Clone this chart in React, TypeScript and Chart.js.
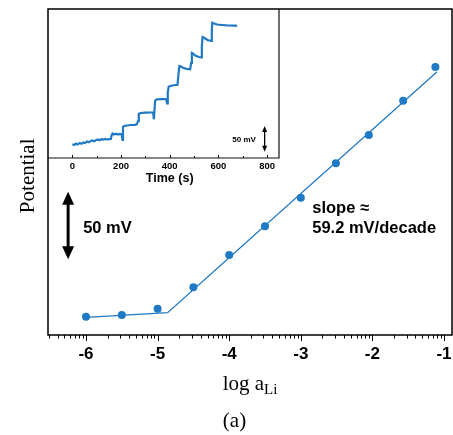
import React, { useEffect, useRef } from "react";
import { Chart, registerables } from "chart.js";

Chart.register(...registerables);

// ---- Main chart data (log a_Li vs potential, mV, arbitrary offset) ----
const logA = [-6, -5.5, -5, -4.5, -4, -3.5, -3, -2.51, -2.05, -1.57, -1.12];
const potential = [18.8, 20.6, 27.0, 49.0, 82.2, 111.7, 141.1, 176.5, 205.5, 240.8, 275.4];
const fitLogA = [-6, -4.86, -1.1];
const fitPotential = [18.2, 22.9, 270.3];
const xTickValues = [-6, -5, -4, -3, -2, -1];

// ---- Inset data (time trace) ----
const insetTime = [
  0, 8, 15, 22, 30, 38, 45, 52, 60, 68, 75, 82, 90, 98, 105, 112, 120, 128, 135, 142, 150, 158,
  162, 165, 172, 180, 188, 196, 203, 206, 208, 212, 225, 240, 255, 265, 270, 273, 280, 300, 320,
  332, 335, 337, 340, 345, 360, 375, 386, 389, 392, 396, 410, 425, 432, 436, 440, 444, 455, 470,
  484, 488, 491, 495, 505, 520, 529, 532, 535, 540, 555, 570, 573, 575, 580, 595, 615, 640, 670, 677,
];
const insetPotential = [
  27.4, 26, 29, 27, 30, 28.4, 31, 30, 33, 31.4, 34, 35, 33.6, 36, 37, 35.6, 37.6, 36.8, 38, 37, 37.6, 38,
  46, 49, 47, 48.4, 46.8, 48, 47, 36, 62, 64, 65, 66, 66.4, 67.4, 74, 88, 90, 90.6, 91,
  91.4, 77.4, 92, 114, 117, 117.6, 118, 117.6, 109.4, 132, 143, 145, 146, 146.4, 168, 184, 183.4, 180.4, 178.4,
  177.4, 190, 210, 209, 205, 202, 201.4, 224, 242, 241, 236, 234, 256, 270.6, 269.6, 267, 266, 265, 264.6, 264.4,
];
const insetTickValues = [0, 200, 400, 600, 800];

const BLUE = "#1f79c4";
const SANS = "'Liberation Sans', Arial, sans-serif";
const SERIF = "'Liberation Serif', 'Times New Roman', serif";

function drawDoubleArrow(
  ctx: CanvasRenderingContext2D,
  x: number,
  y1: number,
  y2: number,
  shaftW: number,
  headW: number,
  headH: number
) {
  ctx.save();
  ctx.fillStyle = "#000";
  ctx.strokeStyle = "#000";
  ctx.lineWidth = shaftW;
  ctx.beginPath();
  ctx.moveTo(x, y1 + headH * 0.8);
  ctx.lineTo(x, y2 - headH * 0.8);
  ctx.stroke();
  ctx.beginPath();
  ctx.moveTo(x, y1);
  ctx.lineTo(x - headW / 2, y1 + headH);
  ctx.lineTo(x + headW / 2, y1 + headH);
  ctx.closePath();
  ctx.fill();
  ctx.beginPath();
  ctx.moveTo(x, y2);
  ctx.lineTo(x - headW / 2, y2 - headH);
  ctx.lineTo(x + headW / 2, y2 - headH);
  ctx.closePath();
  ctx.fill();
  ctx.restore();
}

const mainDecor = {
  id: "mainDecor",
  afterDraw(chart: any) {
    const ctx: CanvasRenderingContext2D = chart.ctx;
    const { left, top, right, bottom } = chart.chartArea;
    const xs = chart.scales.x;
    const ys = chart.scales.y;
    ctx.save();
    // frame
    ctx.strokeStyle = "#000";
    ctx.lineWidth = 1.5;
    ctx.strokeRect(left, top, right - left, bottom - top);
    // log-style ticks
    ctx.lineWidth = 1;
    for (let n = -7; n <= -1; n++) {
      for (let k = 1; k <= 9; k++) {
        const v = n + Math.log10(k);
        if (v < xs.min || v > xs.max) continue;
        const px = Math.round(xs.getPixelForValue(v)) + 0.5;
        const len = k === 1 ? 6 : 3.5;
        ctx.beginPath();
        ctx.moveTo(px, bottom);
        ctx.lineTo(px, bottom + len);
        ctx.stroke();
      }
    }
    // scale bar
    drawDoubleArrow(ctx, xs.getPixelForValue(-6.25), ys.getPixelForValue(147.3), ys.getPixelForValue(77.8), 3, 12, 13);
    ctx.fillStyle = "#000";
    ctx.font = `bold 16.5px ${SANS}`;
    ctx.textAlign = "left";
    ctx.textBaseline = "alphabetic";
    ctx.fillText("50 mV", xs.getPixelForValue(-6.04), ys.getPixelForValue(104.5));
    ctx.fillText("slope \u2248", xs.getPixelForValue(-2.84), ys.getPixelForValue(125.2));
    ctx.fillText("59.2 mV/decade", xs.getPixelForValue(-2.84), ys.getPixelForValue(104.5));
    // axis titles
    ctx.font = `21px ${SERIF}`;
    ctx.save();
    ctx.translate(33.5, 175.8);
    ctx.rotate(-Math.PI / 2);
    ctx.textAlign = "center";
    ctx.fillText("Potential", 0, 0);
    ctx.restore();
    const base = 389.5;
    ctx.textAlign = "left";
    const t1 = "log a";
    ctx.font = `21px ${SERIF}`;
    const w1 = ctx.measureText(t1).width;
    ctx.font = `15px ${SERIF}`;
    const w2 = ctx.measureText("Li").width;
    const startX = (left + right) / 2 - (w1 + w2) / 2;
    ctx.font = `21px ${SERIF}`;
    ctx.fillText(t1, startX, base);
    ctx.font = `15px ${SERIF}`;
    ctx.fillText("Li", startX + w1, base + 4.5);
    ctx.font = `21px ${SERIF}`;
    ctx.textAlign = "center";
    ctx.fillText("(a)", 234.5, 427);
    ctx.restore();
  },
};

const insetDecor = {
  id: "insetDecor",
  afterDraw(chart: any) {
    const ctx: CanvasRenderingContext2D = chart.ctx;
    const { left, top, right, bottom } = chart.chartArea;
    const xs = chart.scales.x;
    const ys = chart.scales.y;
    ctx.save();
    ctx.strokeStyle = "#111";
    ctx.lineWidth = 1.2;
    ctx.beginPath();
    ctx.moveTo(left, bottom);
    ctx.lineTo(right, bottom);
    ctx.lineTo(right, top);
    ctx.stroke();
    ctx.lineWidth = 1;
    for (let v = 0; v <= 800; v += 100) {
      const px = Math.round(xs.getPixelForValue(v)) + 0.5;
      const len = v % 200 === 0 ? 3 : 2;
      ctx.beginPath();
      ctx.moveTo(px, bottom);
      ctx.lineTo(px, bottom - len);
      ctx.stroke();
    }
    ctx.fillStyle = "#000";
    ctx.font = `bold 12.5px ${SANS}`;
    ctx.textAlign = "center";
    ctx.textBaseline = "alphabetic";
    ctx.fillText("Time (s)", xs.getPixelForValue(400), 182);
    ctx.font = `bold 8px ${SANS}`;
    ctx.textAlign = "left";
    ctx.fillText("50 mV", xs.getPixelForValue(657), 142);
    drawDoubleArrow(ctx, xs.getPixelForValue(790), ys.getPixelForValue(64), ys.getPixelForValue(12.6), 1.3, 5, 6);
    ctx.restore();
  },
};

export default function App() {
  const mainRef = useRef<HTMLCanvasElement | null>(null);
  const insetRef = useRef<HTMLCanvasElement | null>(null);

  useEffect(() => {
    document.body.style.margin = "0";
    const main = new Chart(mainRef.current as HTMLCanvasElement, {
      type: "scatter",
      data: {
        datasets: [
          {
            data: logA.map((x, i) => ({ x, y: potential[i] })),
            backgroundColor: BLUE,
            borderColor: BLUE,
            pointRadius: 4,
            pointBorderWidth: 0,
            showLine: false,
            order: 1,
          },
          {
            data: fitLogA.map((x, i) => ({ x, y: fitPotential[i] })),
            borderColor: BLUE,
            borderWidth: 1.3,
            pointRadius: 0,
            showLine: true,
            order: 2,
          },
        ],
      },
      options: {
        animation: false,
        responsive: false,
        devicePixelRatio: 1,
        events: [],
        layout: { autoPadding: false, padding: { left: 48, right: 1, top: 9, bottom: 0 } },
        plugins: { legend: { display: false }, tooltip: { enabled: false } },
        scales: {
          x: {
            type: "linear",
            min: -6.531,
            max: -0.888,
            grid: { display: false, drawTicks: false },
            border: { display: false },
            afterBuildTicks: (scale: any) => {
              scale.ticks = xTickValues.map((v) => ({ value: v }));
            },
            afterFit: (scale: any) => {
              scale.height = 100;
              scale.paddingLeft = 0;
              scale.paddingRight = 0;
            },
            ticks: {
              padding: 9,
              color: "#000",
              font: { family: SANS, weight: "bold", size: 17, lineHeight: 1.2 },
              maxRotation: 0,
              autoSkip: false,
              callback: (v: any) => String(v),
            },
          },
          y: { type: "linear", min: 0, max: 335, display: false },
        },
      },
      plugins: [mainDecor],
    } as any);

    const inset = new Chart(insetRef.current as HTMLCanvasElement, {
      type: "scatter",
      data: {
        datasets: [
          {
            data: insetTime.map((x, i) => ({ x, y: insetPotential[i] })),
            borderColor: BLUE,
            borderWidth: 2.2,
            pointRadius: 0,
            showLine: true,
          },
        ],
      },
      options: {
        animation: false,
        responsive: false,
        devicePixelRatio: 1,
        events: [],
        layout: { autoPadding: false, padding: { left: 48, right: 174, top: 9, bottom: 0 } },
        plugins: { legend: { display: false }, tooltip: { enabled: false } },
        scales: {
          x: {
            type: "linear",
            min: -100,
            max: 849,
            grid: { display: false, drawTicks: false },
            border: { display: false },
            afterBuildTicks: (scale: any) => {
              scale.ticks = insetTickValues.map((v) => ({ value: v }));
            },
            afterFit: (scale: any) => {
              scale.height = 42;
              scale.paddingLeft = 0;
              scale.paddingRight = 0;
            },
            ticks: {
              padding: 2.5,
              color: "#000",
              font: { family: SANS, weight: "bold", size: 9.5, lineHeight: 1.2 },
              maxRotation: 0,
              autoSkip: false,
              callback: (v: any) => String(v),
            },
          },
          y: { type: "linear", min: 0, max: 298, display: false },
        },
      },
      plugins: [insetDecor],
    } as any);

    return () => {
      main.destroy();
      inset.destroy();
    };
  }, []);

  return (
    <div style={{ position: "relative", width: 453, height: 435, background: "#fff" }}>
      <canvas ref={mainRef} width={453} height={435} style={{ position: "absolute", left: 0, top: 0 }} />
      <canvas ref={insetRef} width={453} height={200} style={{ position: "absolute", left: 0, top: 0 }} />
    </div>
  );
}
